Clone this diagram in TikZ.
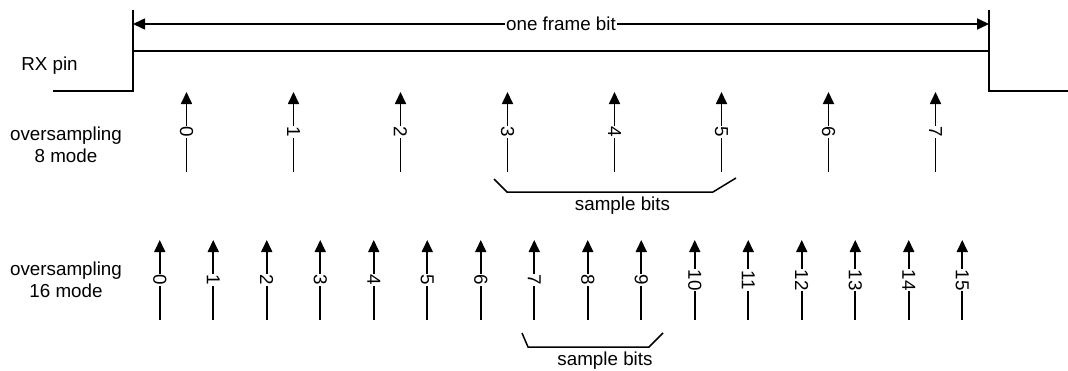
\documentclass[tikz,border=0pt]{standalone}
\usepackage{fontspec}
\setmainfont{Liberation Sans}
\usetikzlibrary{arrows.meta,positioning}

\begin{document}
\begin{tikzpicture}[x=1pt,y=-1pt,>={Triangle[length=12pt,width=11pt]},line join=miter,font=\fontsize{18.8}{22}\selectfont]
\useasboundingbox (0,0) rectangle (1068,370);
\tikzset{wire/.style={draw=black,line width=1.7pt},probe/.style={wire,->},bitlbl/.style={midway,fill=white,inner sep=1pt,rotate=-90},brace/.style={draw=black,line width=1.5pt},caption/.style={anchor=base,align=center,inner sep=0pt}}
\node[caption] (rx) at (49.5,70) {RX pin};
\node[caption] (ov8) at (66,162) {oversampling\\8 mode};
\node[caption] (ov16) at (66,297) {oversampling\\16 mode};
% RX line level
\coordinate (lowL) at (53,91); \coordinate (riseB) at (133,91); \coordinate (riseT) at (133,10);
\coordinate (fallB) at (989,91); \coordinate (fallT) at (989,10); \coordinate (lowR) at (1068,91);
\draw[wire] (lowL) -- (riseB) -- (riseT); \draw[wire] (133,51) -- (989,51);
\draw[wire] (fallT) -- (fallB) -- (lowR);
\coordinate (fs) at (133,24); \coordinate (fe) at (989,24);
\draw[wire,<->] (fs) -- node[fill=white,inner sep=1pt] (frame) {one frame bit} (fe);
% oversampling 8
\foreach \i in {0,...,7} {
  \coordinate (a\i) at ({186.5+107*\i},172); \coordinate (at\i) at ({186.5+107*\i},92);
  \draw[probe] (a\i) -- node[bitlbl] (la\i) {\i} (at\i);
}
\draw[brace] (494,179) -- (507,192) -- (713,192) -- (736,178);
\node[caption] (smp8) at (622.5,210) {sample bits};
% oversampling 16
\foreach \i in {0,...,15} {
  \coordinate (b\i) at ({159.75+53.5*\i},320); \coordinate (bt\i) at ({159.75+53.5*\i},240);
  \draw[probe] (b\i) -- node[bitlbl] (lb\i) {\i} (bt\i);
}
\draw[brace] (522,333) -- (528,347) -- (649,347) -- (663,333);
\node[caption] (smp16) at (605,365) {sample bits};
\end{tikzpicture}
\end{document}
